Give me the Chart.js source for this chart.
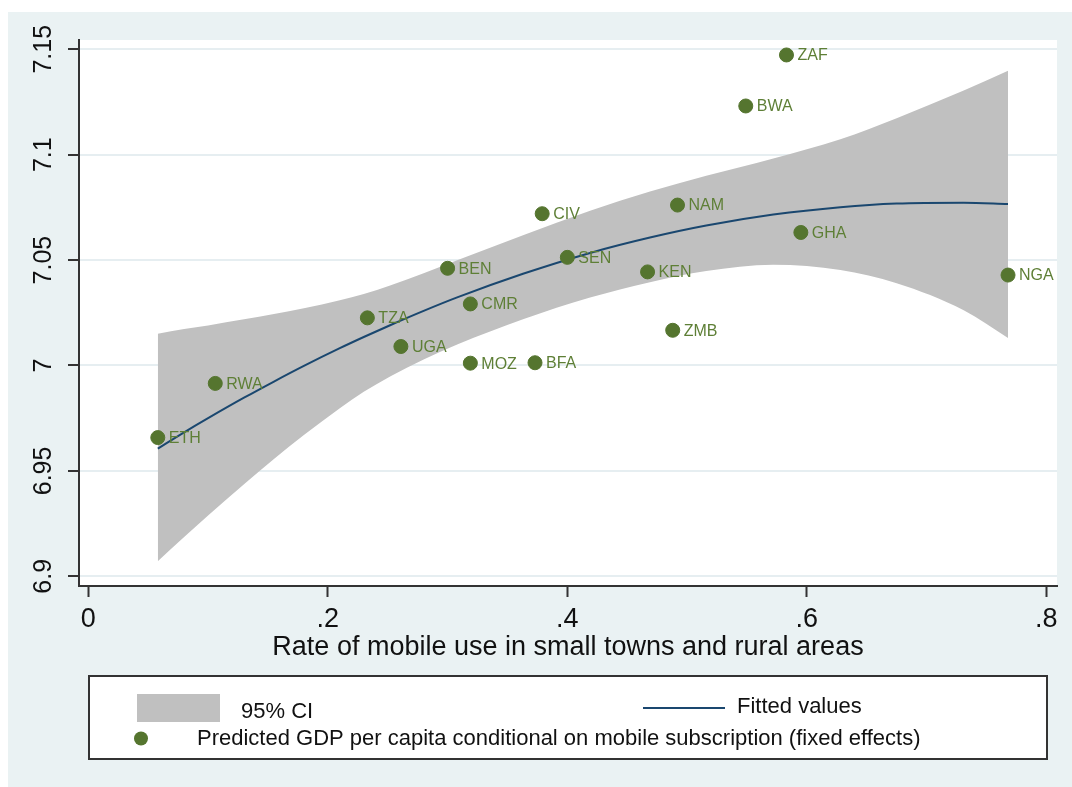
<!DOCTYPE html>
<html>
<head>
<meta charset="utf-8">
<title>Mobile use and GDP per capita</title>
<script src="https://cdn.jsdelivr.net/npm/chart.js@4.4.1/dist/chart.umd.min.js"></script>
<style>
  html, body { margin: 0; padding: 0; background: #ffffff; }
  canvas { display: block; }
</style>
</head>
<body>
<canvas id="chart" width="1072" height="787"></canvas>
<script>
// Country observations
const countries = ['ETH', 'RWA', 'TZA', 'UGA', 'BEN', 'CMR', 'MOZ', 'BFA', 'CIV',
                   'SEN', 'KEN', 'ZMB', 'NAM', 'BWA', 'ZAF', 'GHA', 'NGA'];
const mobileRate = [0.058, 0.106, 0.233, 0.261, 0.300, 0.319, 0.319, 0.373, 0.379,
                    0.400, 0.467, 0.488, 0.492, 0.549, 0.583, 0.595, 0.768];
const predictedGdp = [6.9658, 6.9915, 7.0226, 7.0090, 7.0461, 7.0292, 7.0011, 7.0013, 7.0720,
                      7.0513, 7.0444, 7.0167, 7.0761, 7.1231, 7.1473, 7.0631, 7.0429];

// Quadratic fit and its 95% confidence band
const fitGrid = [0.058, 0.080, 0.100, 0.130, 0.155, 0.180, 0.210, 0.230, 0.252, 0.280,
                 0.308, 0.363, 0.419, 0.469, 0.516, 0.572, 0.628, 0.675, 0.731, 0.768];
const fittedValues = [6.9606, 6.9683, 6.9750, 6.9847, 6.9924, 6.9998, 7.0082, 7.0135, 7.0191, 7.0259,
                      7.0323, 7.0435, 7.0534, 7.0607, 7.0664, 7.0716, 7.0751, 7.0768, 7.0772, 7.0766];
const ciUpper = [7.0150, 7.0173, 7.0190, 7.0219, 7.0244, 7.0271, 7.0310, 7.0339, 7.0379, 7.0438,
                 7.0499, 7.0618, 7.0734, 7.0825, 7.0900, 7.0982, 7.1073, 7.1173, 7.1304, 7.1398];
const ciLower = [6.9071, 6.9186, 6.9288, 6.9437, 6.9556, 6.9670, 6.9797, 6.9875, 6.9948, 7.0028,
                 7.0099, 7.0219, 7.0322, 7.0395, 7.0448, 7.0478, 7.0453, 7.0390, 7.0262, 7.0131];

// Axes
const xTickValues = [0, 0.2, 0.4, 0.6, 0.8];
const xTickLabels = ['0', '.2', '.4', '.6', '.8'];
const yTickValues = [6.9, 6.95, 7, 7.05, 7.1, 7.15];
const yTickLabels = ['6.9', '6.95', '7', '7.05', '7.1', '7.15'];
const xTitle = 'Rate of mobile use in small towns and rural areas';
const legendLabels = ['95% CI', 'Fitted values',
  'Predicted GDP per capita conditional on mobile subscription (fixed effects)'];

const FONT = '"Liberation Sans", Arial, sans-serif';
const COLORS = {
  page: '#eaf2f3',
  grid: '#e6eef1',
  axis: '#333333',
  band: '#c0c0c0',
  fit: '#1a476f',
  dot: '#55752f',
  dotText: '#5e7f36',
  text: '#111111'
};

const toXY = (xs, ys) => xs.map((x, i) => ({ x: x, y: ys[i] }));

// Page background, outer region and white plot region
const backdrop = {
  id: 'backdrop',
  beforeDraw(chart) {
    const { ctx, chartArea: a, width, height } = chart;
    ctx.save();
    ctx.fillStyle = '#ffffff';
    ctx.fillRect(0, 0, width, height);
    ctx.fillStyle = COLORS.page;
    ctx.fillRect(8, 12, width - 8, height - 12);
    ctx.fillStyle = '#ffffff';
    ctx.fillRect(a.left, a.top, a.right - a.left, a.bottom - a.top);
    ctx.restore();
  }
};

// Country codes beside each marker
const pointLabels = {
  id: 'pointLabels',
  afterDatasetsDraw(chart) {
    const { ctx } = chart;
    const meta = chart.getDatasetMeta(0);
    ctx.save();
    ctx.font = '16px ' + FONT;
    ctx.fillStyle = COLORS.dotText;
    ctx.textAlign = 'left';
    ctx.textBaseline = 'middle';
    meta.data.forEach((pt, i) => {
      ctx.fillText(countries[i], pt.x + 11, pt.y + 1);
    });
    ctx.restore();
  }
};

// Boxed legend below the x axis
const boxLegend = {
  id: 'boxLegend',
  afterDraw(chart) {
    const { ctx, chartArea: a } = chart;
    const left = a.left + 10, right = a.right - 10, top = 676, bottom = 759;
    ctx.save();
    ctx.fillStyle = '#ffffff';
    ctx.fillRect(left, top, right - left, bottom - top);
    ctx.strokeStyle = COLORS.axis;
    ctx.lineWidth = 2;
    ctx.strokeRect(left, top, right - left, bottom - top);

    ctx.font = '22px ' + FONT;
    ctx.textBaseline = 'middle';
    ctx.textAlign = 'left';

    // 95% CI swatch
    ctx.fillStyle = COLORS.band;
    ctx.fillRect(left + 48, top + 18, 83, 28);
    ctx.fillStyle = COLORS.text;
    ctx.fillText(legendLabels[0], left + 152, top + 36);

    // fitted line
    ctx.strokeStyle = COLORS.fit;
    ctx.lineWidth = 2;
    ctx.beginPath();
    ctx.moveTo(left + 554, top + 32);
    ctx.lineTo(left + 636, top + 32);
    ctx.stroke();
    ctx.fillText(legendLabels[1], left + 648, top + 31);

    // marker
    ctx.fillStyle = COLORS.dot;
    ctx.beginPath();
    ctx.arc(left + 52, top + 62.5, 7, 0, Math.PI * 2);
    ctx.fill();
    ctx.fillStyle = COLORS.text;
    ctx.fillText(legendLabels[2], left + 108, top + 63);
    ctx.restore();
  }
};

new Chart(document.getElementById('chart'), {
  type: 'scatter',
  data: {
    datasets: [
      {
        label: legendLabels[2],
        data: toXY(mobileRate, predictedGdp),
        backgroundColor: COLORS.dot,
        borderColor: COLORS.dot,
        borderWidth: 1,
        pointRadius: 7,
        pointHoverRadius: 7
      },
      {
        label: legendLabels[1],
        data: toXY(fitGrid, fittedValues),
        showLine: true,
        borderColor: COLORS.fit,
        borderWidth: 2,
        pointRadius: 0,
        cubicInterpolationMode: 'monotone',
        fill: false
      },
      {
        label: legendLabels[0],
        data: toXY(fitGrid, ciUpper),
        showLine: true,
        borderColor: 'rgba(0,0,0,0)',
        borderWidth: 0,
        pointRadius: 0,
        backgroundColor: COLORS.band,
        cubicInterpolationMode: 'monotone',
        fill: '+1'
      },
      {
        label: 'lower bound',
        data: toXY(fitGrid, ciLower),
        showLine: true,
        borderColor: 'rgba(0,0,0,0)',
        borderWidth: 0,
        pointRadius: 0,
        cubicInterpolationMode: 'monotone',
        fill: false
      }
    ]
  },
  options: {
    responsive: false,
    animation: false,
    events: [],
    layout: { padding: { left: 0, top: 40, right: 15, bottom: 123 } },
    plugins: {
      legend: { display: false },
      tooltip: { enabled: false },
      title: { display: false }
    },
    scales: {
      x: {
        type: 'linear',
        min: -0.0078,
        max: 0.8089,
        afterBuildTicks(scale) { scale.ticks = xTickValues.map(v => ({ value: v })); },
        afterFit(scale) { scale.height = 78; },
        grid: {
          drawOnChartArea: false,
          drawTicks: true,
          tickLength: 11,
          tickColor: COLORS.axis,
          tickWidth: 2
        },
        border: { display: true, color: COLORS.axis, width: 2 },
        ticks: {
          autoSkip: false,
          maxRotation: 0,
          padding: 6,
          color: COLORS.text,
          font: { family: FONT, size: 27 },
          callback: (v, i) => xTickLabels[i]
        },
        title: {
          display: true,
          text: xTitle,
          color: COLORS.text,
          font: { family: FONT, size: 27 },
          padding: { top: 0, bottom: 0 }
        }
      },
      y: {
        type: 'linear',
        min: 6.8954,
        max: 7.1544,
        afterBuildTicks(scale) { scale.ticks = yTickValues.map(v => ({ value: v })); },
        afterFit(scale) { scale.width = 79; },
        grid: {
          color: COLORS.grid,
          lineWidth: 2,
          drawTicks: true,
          tickLength: 11,
          tickColor: COLORS.axis,
          tickWidth: 2
        },
        border: { display: true, color: COLORS.axis, width: 2 },
        ticks: {
          autoSkip: false,
          minRotation: 90,
          maxRotation: 90,
          crossAlign: 'center',
          padding: 0,
          color: COLORS.text,
          font: { family: FONT, size: 25 },
          callback: (v, i) => yTickLabels[i]
        }
      }
    }
  },
  plugins: [backdrop, pointLabels, boxLegend]
});
</script>
</body>
</html>
